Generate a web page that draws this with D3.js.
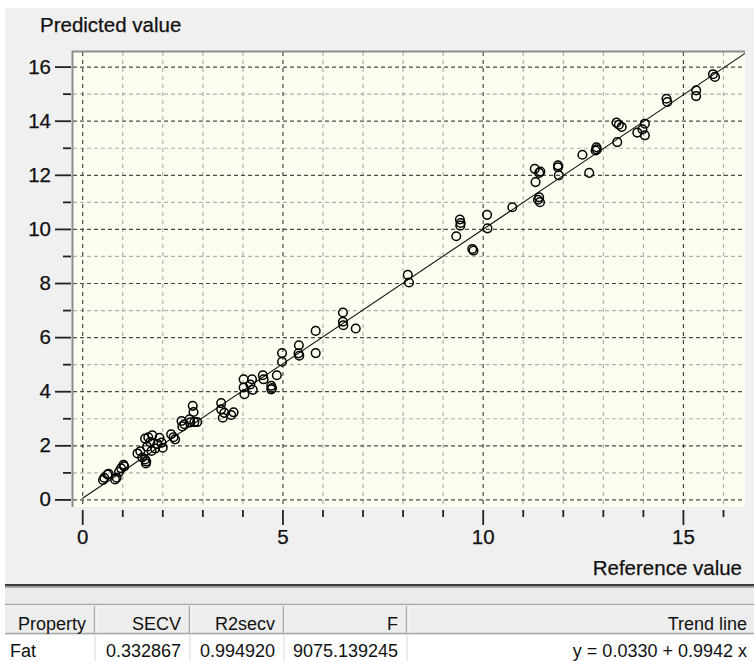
<!DOCTYPE html>
<html>
<head>
<meta charset="utf-8">
<script src="https://cdn.jsdelivr.net/npm/d3@7"></script>
<style>
  body { margin: 0; background: #ffffff; }
  text { font-family: "Liberation Sans", Arial, sans-serif; fill: #111; }
</style>
</head>
<body>
<div id="vis1"></div>
<script>
// Predicted vs reference plot (cross validation) with stats table below
const FRAME_WIDTH = 754;
const FRAME_HEIGHT = 661;
const PLOT = {left: 73, right: 745, top: 52, bottom: 507};

// data
const REF_VALUES = [0.52, 0.55, 0.63, 0.66, 0.82, 0.86, 0.92, 0.97, 1.03, 1.05,
  1.38, 1.45, 1.50, 1.57, 1.59, 1.60, 1.57, 1.65, 1.70, 1.62, 1.73, 1.82, 1.93, 1.98, 2.01, 1.88, 1.75,
  2.22, 2.32, 2.28, 2.48, 2.55, 2.50, 2.68, 2.76, 2.78, 2.80, 2.87, 2.70,
  3.47, 3.47, 3.51, 3.55, 3.72, 3.78,
  4.03, 4.03, 4.05, 4.24, 4.26, 4.20, 4.51, 4.53, 4.72, 4.72, 4.74, 4.86, 4.99, 4.99,
  5.41, 5.42, 5.40, 5.83, 5.83, 6.51, 6.51, 6.52, 6.83,
  8.13, 8.16, 9.34, 9.43, 9.44, 9.45, 9.74, 9.77, 10.11, 10.12, 10.74,
  11.30, 11.32, 11.41, 11.44, 11.41, 11.43, 11.38, 11.88, 11.88, 11.90,
  12.49, 12.66, 12.84, 12.85, 12.82, 13.34, 13.36, 13.47, 13.40, 13.86, 13.99, 14.05, 14.05,
  14.59, 14.61, 15.33, 15.33, 15.75, 15.80];
const PRED_VALUES = [0.72, 0.80, 0.92, 0.95, 0.74, 0.80, 1.02, 1.15, 1.28, 1.22,
  1.70, 1.78, 1.55, 1.48, 1.33, 1.40, 2.25, 2.30, 2.12, 1.95, 1.79, 1.88, 2.28, 2.10, 1.91, 2.05, 2.37,
  2.41, 2.22, 2.30, 2.90, 2.78, 2.70, 2.96, 3.46, 3.23, 2.86, 2.86, 2.85,
  3.56, 3.33, 3.02, 3.20, 3.12, 3.22,
  4.44, 4.14, 3.89, 4.44, 4.05, 4.25, 4.59, 4.44, 4.20, 4.07, 4.12, 4.59, 5.41, 5.09,
  5.70, 5.31, 5.40, 6.23, 5.41, 6.91, 6.57, 6.44, 6.32,
  8.30, 8.02, 9.73, 10.35, 10.12, 10.22, 9.26, 9.20, 10.52, 10.02, 10.80,
  12.22, 11.73, 12.07, 12.12, 11.17, 10.99, 11.08, 12.35, 12.28, 11.98,
  12.74, 12.07, 13.02, 12.94, 12.90, 13.93, 13.21, 13.77, 13.85, 13.56, 13.68, 13.89, 13.46,
  14.81, 14.69, 15.12, 14.91, 15.72, 15.62];

// trend line y = a + b x
const TREND_INTERCEPT = 0.0330;
const TREND_SLOPE = 0.9942;

const X_MAJOR_TICKS = [0, 5, 10, 15];
const X_MINOR_TICKS = [1, 2, 3, 4, 6, 7, 8, 9, 11, 12, 13, 14, 16];
const Y_MAJOR_TICKS = [0, 2, 4, 6, 8, 10, 12, 14, 16];
const Y_MINOR_TICKS = [1, 3, 5, 7, 9, 11, 13, 15];

const Y_TITLE = 'Predicted value';
const X_TITLE = 'Reference value';

const TABLE_HEADERS = ['Property', 'SECV', 'R2secv', 'F', 'Trend line'];
const TABLE_ROW = ['Fat', '0.332867', '0.994920', '9075.139245', 'y = 0.0330 + 0.9942 x'];
const TABLE_COL_EDGES = [5, 95, 190, 284, 407, 756];

const FRAME = d3.select('#vis1')
                .append('svg')
                    .attr('width', FRAME_WIDTH)
                    .attr('height', FRAME_HEIGHT);

// grey window panel
FRAME.append('rect')
    .attr('x', 5).attr('y', 8)
    .attr('width', FRAME_WIDTH - 5).attr('height', FRAME_HEIGHT - 8)
    .attr('fill', '#f0f0f0');

// scales (x = 0 sits a little inside the frame)
const X_SCALE = d3.scaleLinear()
                .domain([-0.23, 16.55])
                .range([PLOT.left, PLOT.right]);
const Y_SCALE = d3.scaleLinear()
                .domain([-0.28, 16.54])
                .range([PLOT.bottom, PLOT.top]);

// plot background
FRAME.append('rect')
    .attr('x', PLOT.left).attr('y', PLOT.top)
    .attr('width', PLOT.right - PLOT.left)
    .attr('height', PLOT.bottom - PLOT.top)
    .attr('fill', '#fefef0');

FRAME.append('clipPath').attr('id', 'plotclip')
    .append('rect')
    .attr('x', PLOT.left).attr('y', PLOT.top)
    .attr('width', PLOT.right - PLOT.left)
    .attr('height', PLOT.bottom - PLOT.top);

const PLOT_G = FRAME.append('g').attr('clip-path', 'url(#plotclip)');

// grid: light dashes on minor, dark dashes on major
function vGrid(ticks, color) {
    PLOT_G.selectAll(null)
        .data(ticks)
        .enter()
        .append('line')
            .attr('x1', d => X_SCALE(d) + 0.5).attr('x2', d => X_SCALE(d) + 0.5)
            .attr('y1', PLOT.top).attr('y2', PLOT.bottom)
            .attr('stroke', color)
            .attr('stroke-width', 1.2)
            .attr('stroke-dasharray', '4,4');
}
function hGrid(ticks, color) {
    PLOT_G.selectAll(null)
        .data(ticks)
        .enter()
        .append('line')
            .attr('x1', PLOT.left).attr('x2', PLOT.right)
            .attr('y1', d => Y_SCALE(d) + 0.5).attr('y2', d => Y_SCALE(d) + 0.5)
            .attr('stroke', color)
            .attr('stroke-width', 1.2)
            .attr('stroke-dasharray', '4,3');
}
vGrid(X_MINOR_TICKS, '#b0b0b0');
hGrid(Y_MINOR_TICKS, '#b0b0b0');
vGrid(X_MAJOR_TICKS, '#4a4a4a');
hGrid(Y_MAJOR_TICKS, '#4a4a4a');

// trend line
const TREND_X = X_SCALE.domain();
PLOT_G.append('line')
    .attr('x1', X_SCALE(0)).attr('y1', Y_SCALE(TREND_INTERCEPT))
    .attr('x2', X_SCALE(TREND_X[1])).attr('y2', Y_SCALE(TREND_INTERCEPT + TREND_SLOPE * TREND_X[1]))
    .attr('stroke', '#111')
    .attr('stroke-width', 1.1);

// points
PLOT_G.selectAll('points')
    .data(d3.zip(REF_VALUES, PRED_VALUES))
    .enter()
    .append('circle')
        .attr('cx', d => X_SCALE(d[0]))
        .attr('cy', d => Y_SCALE(d[1]))
        .attr('r', 4.3)
        .attr('fill', 'none')
        .attr('stroke', '#000')
        .attr('stroke-width', 1.5);

// sunken frame edges
FRAME.append('line')
    .attr('x1', PLOT.left - 0.5).attr('x2', PLOT.left - 0.5)
    .attr('y1', PLOT.top - 1).attr('y2', PLOT.bottom)
    .attr('stroke', '#8c8c8c').attr('stroke-width', 2);
FRAME.append('line')
    .attr('x1', PLOT.left - 1).attr('x2', PLOT.right)
    .attr('y1', PLOT.top - 0.5).attr('y2', PLOT.top - 0.5)
    .attr('stroke', '#8c8c8c').attr('stroke-width', 2);

// axes
function styleAxis(g) {
    g.select('.domain').remove();
    g.selectAll('line').attr('stroke', '#222').attr('stroke-width', 1.8);
    g.selectAll('text')
        .attr('font-size', '20.5px')
        .attr('fill', '#111')
        .attr('stroke', '#111')
        .attr('stroke-width', 0.25)
        .attr('font-family', '"Liberation Sans", Arial, sans-serif');
}

FRAME.append('g')
    .attr('transform', 'translate(' + (PLOT.left - 2) + ',0)')
    .call(d3.axisLeft(Y_SCALE).tickValues(Y_MINOR_TICKS).tickSize(8).tickFormat(''))
    .call(styleAxis);
FRAME.append('g')
    .attr('transform', 'translate(' + (PLOT.left - 2) + ',0)')
    .call(d3.axisLeft(Y_SCALE).tickValues(Y_MAJOR_TICKS).tickSize(16).tickPadding(4))
    .call(styleAxis);

FRAME.append('g')
    .attr('transform', 'translate(0,' + (PLOT.bottom + 3) + ')')
    .call(d3.axisBottom(X_SCALE).tickValues(X_MINOR_TICKS).tickSize(7).tickFormat(''))
    .call(styleAxis);
FRAME.append('g')
    .attr('transform', 'translate(0,' + (PLOT.bottom + 3) + ')')
    .call(d3.axisBottom(X_SCALE).tickValues(X_MAJOR_TICKS).tickSize(15).tickPadding(4))
    .call(styleAxis);

// axis titles
FRAME.append('text')
    .attr('x', 40).attr('y', 32)
    .attr('font-size', '20.5px')
    .attr('stroke', '#111').attr('stroke-width', 0.25)
    .text(Y_TITLE);
FRAME.append('text')
    .attr('x', 742).attr('y', 575)
    .attr('text-anchor', 'end')
    .attr('font-size', '20.5px')
    .attr('stroke', '#111').attr('stroke-width', 0.25)
    .text(X_TITLE);

// splitter between chart and table
FRAME.append('rect')
    .attr('x', 5).attr('y', 584).attr('width', FRAME_WIDTH - 5).attr('height', 2.5)
    .attr('fill', '#3c3c3c');
FRAME.append('rect')
    .attr('x', 5).attr('y', 587).attr('width', FRAME_WIDTH - 5).attr('height', 17)
    .attr('fill', '#ebebeb');
FRAME.append('line')
    .attr('x1', 5).attr('x2', FRAME_WIDTH).attr('y1', 587.5).attr('y2', 587.5)
    .attr('stroke', '#b0b0b0');

// table
const HEAD_TOP = 604, HEAD_BOTTOM = 634, ROW_BOTTOM = 668;
const TABLE = FRAME.append('g');

const cols = d3.range(TABLE_HEADERS.length).map(i => ({
    head: TABLE_HEADERS[i],
    val: TABLE_ROW[i],
    x0: TABLE_COL_EDGES[i],
    x1: TABLE_COL_EDGES[i + 1]
}));

// header cells
TABLE.selectAll('headcell')
    .data(cols)
    .enter()
    .append('rect')
        .attr('x', d => d.x0).attr('y', HEAD_TOP)
        .attr('width', d => d.x1 - d.x0).attr('height', HEAD_BOTTOM - HEAD_TOP)
        .attr('fill', '#ededed');
TABLE.append('line')
    .attr('x1', 5).attr('x2', FRAME_WIDTH).attr('y1', HEAD_TOP + 0.5).attr('y2', HEAD_TOP + 0.5)
    .attr('stroke', '#a8a8a8').attr('stroke-width', 1.5);
TABLE.append('line')
    .attr('x1', 5).attr('x2', FRAME_WIDTH).attr('y1', HEAD_TOP + 2).attr('y2', HEAD_TOP + 2)
    .attr('stroke', '#fafafa');
TABLE.append('line')
    .attr('x1', 5).attr('x2', FRAME_WIDTH).attr('y1', HEAD_BOTTOM - 0.5).attr('y2', HEAD_BOTTOM - 0.5)
    .attr('stroke', '#a8a8a8').attr('stroke-width', 1.5);

// body row
TABLE.append('rect')
    .attr('x', 5).attr('y', HEAD_BOTTOM + 1)
    .attr('width', FRAME_WIDTH - 5).attr('height', ROW_BOTTOM - HEAD_BOTTOM)
    .attr('fill', '#ffffff');

// column separators
TABLE.selectAll('sepdark')
    .data(cols.slice(0, -1))
    .enter()
    .append('line')
        .attr('x1', d => d.x1 - 0.5).attr('x2', d => d.x1 - 0.5)
        .attr('y1', HEAD_TOP + 2).attr('y2', HEAD_BOTTOM - 1)
        .attr('stroke', '#a8a8a8').attr('stroke-width', 1.5);
TABLE.selectAll('seplight')
    .data(cols.slice(0, -1))
    .enter()
    .append('line')
        .attr('x1', d => d.x1 + 1).attr('x2', d => d.x1 + 1)
        .attr('y1', HEAD_TOP + 2).attr('y2', HEAD_BOTTOM - 1)
        .attr('stroke', '#fbfbfb');
TABLE.selectAll('seprow')
    .data(cols.slice(0, -1))
    .enter()
    .append('line')
        .attr('x1', d => d.x1).attr('x2', d => d.x1)
        .attr('y1', HEAD_BOTTOM + 1).attr('y2', ROW_BOTTOM)
        .attr('stroke', '#ececec').attr('stroke-width', 2);

// header labels, right aligned
TABLE.selectAll('headtext')
    .data(cols)
    .enter()
    .append('text')
        .attr('x', d => d.x1 - 9)
        .attr('y', HEAD_BOTTOM - 4.5)
        .attr('text-anchor', 'end')
        .attr('font-size', '18px')
        .text(d => d.head);

// row values: first column left, rest right
TABLE.selectAll('rowtext')
    .data(cols)
    .enter()
    .append('text')
        .attr('x', (d, i) => i === 0 ? d.x0 + 5 : d.x1 - 9)
        .attr('y', 657)
        .attr('text-anchor', (d, i) => i === 0 ? 'start' : 'end')
        .attr('font-size', '18px')
        .text(d => d.val);
</script>
</body>
</html>
